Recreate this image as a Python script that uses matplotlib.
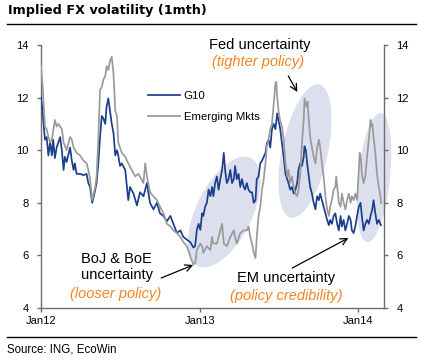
import numpy as np
import pandas as pd
import matplotlib
matplotlib.use("Agg")
import matplotlib.pyplot as plt
import matplotlib.dates as mdates
from matplotlib.patches import Ellipse
import matplotlib.transforms as mtransforms

# ---------------- data (days since 2012-01-01, implied vol %) ----------------
g10_day = [0, 4, 9, 13, 17, 21, 25, 28, 32, 36, 44, 48, 52, 55, 59, 67, 71, 75, 78, 82,
           90, 98, 105, 109, 113, 118, 125, 128, 132, 136, 140, 144, 148, 151, 155, 159,
           163, 167, 171, 175, 178, 182, 186, 194, 201, 205, 213, 221,
           228, 236, 244, 251, 259, 267, 274, 282, 290, 298, 305, 313, 321, 328, 336, 344,
           351, 355, 359, 363, 367, 371, 374, 378, 382, 386, 390, 394, 397, 401, 405, 409,
           413, 417, 421, 424, 428, 432, 436, 440, 444, 447, 451, 455, 459, 463, 467, 470,
           474, 478, 482, 486, 490, 494, 497, 501, 505, 509, 513, 517, 520, 524, 528, 532,
           536, 540, 544, 547,
           551, 555, 559, 563, 567, 570, 574, 578, 582, 586, 590, 593, 597, 601, 605, 607,
           610, 613, 616, 620, 624, 628, 632, 636, 640, 643, 647, 651, 655, 659, 663, 666,
           670, 674, 678, 682, 686, 690, 693, 697, 701, 705, 709, 713, 716, 720, 724, 728,
           732, 736, 739, 743, 747, 751, 755, 759, 763, 766, 770, 774, 778, 783]
g10_val = [12.04, 11.4, 10.4, 10.5, 9.8, 10.3, 9.8, 10.4, 9.7, 10.1, 10.5, 10.0, 9.25, 9.75,
           9.55, 10.1, 9.6, 9.25, 9.5, 9.1, 9.1, 9.05, 9.1, 8.75, 8.6, 8.0, 8.5, 8.75, 9.5,
           10.5, 11.3, 11.2, 11.0, 11.65, 11.97, 11.5, 11.0, 10.65, 9.8, 10.0, 9.8, 9.4,
           9.5, 9.25, 8.1, 8.6, 8.35, 7.9,
           8.4, 8.25, 8.75, 8.0, 7.75, 8.0, 7.6, 7.5, 7.3, 7.5, 7.2, 6.85, 6.95, 6.7, 6.6,
           6.5, 6.3, 6.35, 6.97, 7.2, 6.97, 7.6, 7.5, 7.85, 8.0, 8.5, 8.25, 8.6, 8.25, 8.75,
           9.0, 8.5, 8.9, 9.25, 9.9, 9.25, 8.75, 8.9, 9.25, 8.75, 8.9, 9.4, 8.9, 9.1, 8.6,
           8.9, 8.6, 8.5, 8.75, 8.5, 8.4, 8.4, 8.0, 8.1, 8.9, 9.0, 9.5, 9.6, 9.75, 9.9,
           10.25, 10.4, 10.1, 10.8, 11.0, 10.8, 11.4, 11.15,
           10.8, 10.25, 9.75, 9.1, 8.9, 8.75, 8.5, 8.6, 8.35, 8.5, 8.75, 9.25, 9.5, 9.4,
           9.75, 10.15, 10.0, 9.5, 9.1, 8.6, 8.35, 8.0, 7.75, 8.25, 8.1, 8.35, 8.1, 7.85,
           7.6, 7.35, 7.15, 7.35, 7.2, 7.5, 7.6, 7.2, 6.95, 7.5, 7.1, 7.35, 6.95, 7.2, 7.5,
           7.35, 6.95, 6.85, 7.1, 7.5, 7.85, 8.0, 7.5, 6.95, 7.2, 7.35, 7.2, 7.5, 7.75, 8.1,
           7.6, 7.2, 7.35, 7.15]

em_day = [0, 4, 9, 13, 17, 21, 25, 32, 36, 40, 48, 52, 59, 67, 71, 75, 82, 90, 98, 105,
          109, 113, 118, 125, 128, 132, 136, 140, 144, 148, 151, 155, 159, 163, 167, 171,
          175, 178, 186, 194, 201, 209, 217, 224,
          228, 236, 240, 244, 251, 259, 267, 274, 282, 290, 298, 305, 313, 321, 328, 336,
          344, 351, 355, 359, 367, 371, 374, 382, 390, 394, 397, 405, 413, 417, 421, 428,
          436, 444, 447, 451, 459, 467, 474, 478, 482, 486, 490, 494, 497, 501, 505, 509,
          513, 517, 520, 524, 528, 532, 536, 540, 542, 544, 547,
          551, 555, 559, 563, 567, 570, 574, 578, 582, 586, 590, 593, 597, 601, 605, 607,
          611, 614, 616, 620, 624, 628, 632, 636, 640, 643, 647, 651, 655, 659, 663, 666,
          670, 674, 678, 680, 683, 686, 690, 693, 697, 701, 705, 709, 713, 716, 720, 724,
          728, 732, 734, 737, 739, 743, 747, 751, 755, 759, 761, 763, 766, 770, 774, 778,
          782, 783]
em_val = [13.2, 12.4, 10.9, 10.8, 10.5, 10.3, 10.4, 11.15, 10.9, 11.0, 10.8, 10.3, 10.0,
          10.5, 10.4, 10.1, 9.9, 9.8, 9.6, 9.5, 9.25, 8.9, 8.1, 8.6, 9.0, 10.4, 12.3, 12.4,
          12.7, 12.8, 13.2, 13.05, 13.4, 13.55, 12.9, 11.5, 11.3, 10.3, 9.9, 9.75, 9.5,
          9.25, 9.0, 9.1,
          9.0, 8.75, 9.5, 9.0, 8.4, 8.25, 8.1, 7.85, 7.6, 7.2, 7.1, 6.95, 6.85, 6.7, 6.5,
          6.35, 5.95, 5.65, 5.7, 6.2, 6.45, 6.35, 6.1, 6.35, 6.2, 6.7, 6.45, 6.45, 6.95,
          7.2, 6.45, 6.35, 6.7, 6.95, 6.7, 6.45, 6.85, 6.95, 6.95, 7.1, 6.7, 6.45, 6.1,
          5.9, 6.7, 7.5, 7.85, 8.5, 8.9, 9.5, 10.15, 10.4, 10.8, 11.0, 11.8, 12.55, 12.6,
          12.0, 11.5,
          11.1, 10.9, 10.4, 9.5, 9.0, 9.25, 8.75, 9.0, 8.6, 8.35, 8.25, 8.5, 9.1, 10.25,
          11.15, 11.97, 11.65, 11.85, 11.3, 10.5, 10.1, 9.75, 9.5, 10.1, 10.4, 10.1, 9.5,
          9.0, 8.25, 7.75, 7.5, 7.85, 8.1, 8.5, 8.6, 9.0, 8.5, 8.0, 7.85, 8.35, 8.0, 7.75,
          8.1, 8.35, 8.0, 8.25, 8.1, 8.35, 8.1, 9.25, 9.9, 9.65, 9.1, 8.75, 9.0, 9.75,
          10.4, 11.15, 10.9, 11.0, 10.5, 9.9, 9.1, 8.6, 8.25, 8.0]

series_names = ["G10", "Emerging Mkts"]
tick_dates = ["2012-01-01", "2013-01-01", "2014-01-01"]
tick_labels = ["Jan12", "Jan13", "Jan14"]
y_ticks = [4, 6, 8, 10, 12, 14]

start = pd.Timestamp("2012-01-01")
g10_dates = start + pd.to_timedelta(g10_day, unit="D")
em_dates = start + pd.to_timedelta(em_day, unit="D")

# ---------------- styling ----------------
BLUE = "#1b3f8b"
GRAY = "#9a9a9a"
ORANGE = "#f5821f"
ELL = "#dcdfee"
SPINE = "#6e6e6e"
FONT = "Liberation Sans"

W, H = 421, 360
fig = plt.figure(figsize=(W / 100, H / 100), dpi=100)
ax = fig.add_axes([41 / W, 1 - 308 / H, (384 - 41) / W, (308 - 45) / H])

ax.set_xlim(pd.Timestamp("2012-01-01"), pd.Timestamp("2014-03-01"))
ax.set_ylim(4, 14)

# ellipses (drawn in inches, centred on data points)
def add_ellipse(date, val, w_px, h_px, ang):
    tr = fig.dpi_scale_trans + mtransforms.ScaledTranslation(
        mdates.date2num(pd.Timestamp(date)), val, ax.transData)
    e = Ellipse((0, 0), w_px / 100, h_px / 100, angle=ang, facecolor=ELL,
                edgecolor="none", transform=tr, clip_on=False, zorder=1)
    ax.add_patch(e)

add_ellipse("2013-02-26", 7.65, 120, 56, 64)
add_ellipse("2013-08-31", 9.97, 136, 46, 78)
add_ellipse("2014-02-06", 8.96, 130, 32, 84)

l1, = ax.plot(g10_dates, g10_val, color=BLUE, lw=1.25, zorder=3, label=series_names[0])
l2, = ax.plot(em_dates, em_val, color=GRAY, lw=1.25, zorder=3, label=series_names[1])

ax2 = ax.twinx()
ax2.set_ylim(4, 14)

for a in (ax, ax2):
    a.set_yticks(y_ticks)
    a.set_yticklabels([str(v) for v in y_ticks])
    a.spines["top"].set_visible(False)
    for s in a.spines.values():
        s.set_color(SPINE)
        s.set_linewidth(1.0)
    a.tick_params(axis="both", length=3, width=1.0, color=SPINE, labelsize=8,
                  labelcolor="black", pad=4)
    for lab in a.get_yticklabels():
        lab.set_fontfamily(FONT)
ax2.spines["left"].set_visible(False)
ax2.spines["bottom"].set_visible(False)
ax.spines["right"].set_visible(False)

ax.set_xticks(pd.to_datetime(tick_dates))
ax.set_xticklabels(tick_labels, fontfamily=FONT, fontsize=8)
ax.tick_params(axis="x", pad=3)
ax.tick_params(axis="y", pad=6)
ax2.tick_params(axis="y", pad=6)

# legend
leg = ax.legend(handles=[l1, l2], loc="upper left",
                bbox_to_anchor=(148 / W, 1 - 91 / H), bbox_transform=fig.transFigure,
                frameon=False, prop={"family": FONT, "size": 8.2},
                handlelength=2.85, handletextpad=0.3, labelspacing=1.0,
                borderpad=0, borderaxespad=0)

# annotations
def d(x_px):
    return start + pd.Timedelta(days=(x_px - 41) * 2.306)

def v(y_px):
    return 14 - (y_px - 45) / 26.3

txt_kw = dict(fontfamily=FONT, fontsize=10.5, ha="center", va="baseline", zorder=5)
ax.text(d(259), v(49), "Fed uncertainty", color="black", **txt_kw)
ax.text(d(258), v(66), "(tighter policy)", color=ORANGE, style="italic", **txt_kw)
ax.text(d(116), v(263), "BoJ & BoE", color="black", **txt_kw)
ax.text(d(117), v(279), "uncertainty", color="black", **txt_kw)
ax.text(d(116), v(298), "(looser policy)", color=ORANGE, style="italic", **txt_kw)
ax.text(d(286), v(282), "EM uncertainty", color="black", **txt_kw)
ax.text(d(286), v(300), "(policy credibility)", color=ORANGE, style="italic", **txt_kw)

arrow = dict(arrowstyle="->", color="black", lw=0.9, shrinkA=0, shrinkB=0,
             mutation_scale=12)
ax.annotate("", xy=(d(297), v(92)), xytext=(d(288), v(76)), arrowprops=arrow, zorder=5)
ax.annotate("", xy=(d(193), v(265)), xytext=(d(161), v(278)), arrowprops=arrow, zorder=5)
ax.annotate("", xy=(d(348), v(238)), xytext=(d(292), v(268)), arrowprops=arrow, zorder=5)

# title, rules, source
fig.text(7.5 / W, 1 - 14 / H, "Implied FX volatility (1mth)", fontfamily="DejaVu Sans",
         fontweight="bold", fontsize=9.2, ha="left", va="baseline")
fig.add_artist(plt.Line2D([7 / W, 416 / W], [1 - 24 / H, 1 - 24 / H], color="black",
                          lw=1.0, transform=fig.transFigure))
fig.add_artist(plt.Line2D([7 / W, 416 / W], [1 - 337 / H, 1 - 337 / H], color="black",
                          lw=1.0, transform=fig.transFigure))
fig.text(7 / W, 1 - 353 / H, "Source: ING, EcoWin", fontfamily=FONT, fontsize=8.3,
         ha="left", va="baseline")

fig.savefig("out.png", dpi=100)
